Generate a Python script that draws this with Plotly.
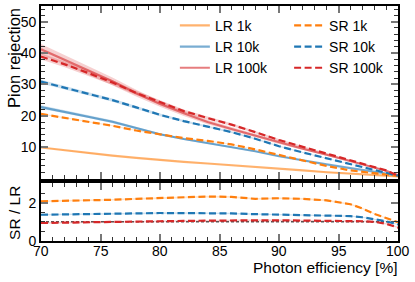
import plotly.graph_objects as go

# ---------------- data ----------------
eff = [70, 72, 74, 76, 78, 80, 82, 84, 86, 88, 90, 92, 94, 96, 97, 98, 99, 100]

lr_1k   = [9.9, 9.0, 8.1, 7.3, 6.6, 5.9, 5.3, 4.8, 4.3, 3.8, 3.2, 2.6, 2.0, 1.5, 1.3, 1.1, 0.9, 0.7]
lr_10k  = [22.8, 21.3, 19.8, 18.1, 16.1, 14.1, 12.6, 11.3, 10.1, 8.7, 7.1, 5.7, 4.5, 3.3, 2.8, 2.2, 1.6, 0.9]
lr_100k = [41.2, 37.8, 34.4, 31.0, 27.2, 23.8, 20.8, 18.0, 15.8, 13.7, 11.5, 9.5, 7.6, 5.6, 4.6, 3.6, 2.5, 1.1]

sr_1k   = [20.6, 19.4, 18.2, 16.8, 15.3, 14.0, 12.9, 12.0, 10.9, 9.3, 7.6, 5.8, 4.0, 2.6, 2.1, 1.6, 1.1, 0.8]
sr_10k  = [30.9, 28.9, 27.0, 25.0, 22.7, 20.3, 18.3, 16.5, 14.8, 12.7, 10.3, 8.3, 6.5, 4.6, 3.7, 2.9, 2.0, 0.9]
sr_100k = [38.9, 36.4, 33.6, 30.6, 27.3, 24.3, 21.5, 19.3, 17.2, 14.8, 12.3, 10.1, 8.0, 5.8, 4.8, 3.7, 2.6, 0.9]

ratio_1k   = [2.07, 2.09, 2.12, 2.15, 2.20, 2.25, 2.28, 2.32, 2.30, 2.20, 2.23, 2.20, 2.12, 1.92, 1.70, 1.42, 1.20, 0.98]
ratio_10k  = [1.37, 1.38, 1.40, 1.42, 1.44, 1.46, 1.46, 1.46, 1.44, 1.40, 1.38, 1.36, 1.34, 1.30, 1.24, 1.15, 1.03, 0.86]
ratio_100k = [0.94, 0.95, 0.96, 0.98, 1.00, 1.03, 1.05, 1.07, 1.08, 1.08, 1.08, 1.07, 1.06, 1.05, 1.03, 1.00, 0.90, 0.70]

# relative statistical uncertainty per series (shaded bands)
rel_err = {"LR 1k": 0.01, "LR 10k": 0.025, "LR 100k": 0.04,
           "SR 1k": 0.01, "SR 10k": 0.02, "SR 100k": 0.025}
ratio_rel_err = {"1k": 0.02, "10k": 0.025, "100k": 0.04}

x_ticks = [70, 75, 80, 85, 90, 95, 100]
y_ticks_top = [10, 20, 30, 40, 50]
y_ticks_bot = [0, 2]

# ---------------- style ----------------
C = {"1k": (255, 127, 14), "10k": (31, 119, 180), "100k": (214, 39, 40)}
FONT = "Liberation Sans, Arial, Helvetica, sans-serif"

def rgba(c, a):
    return f"rgba({c[0]},{c[1]},{c[2]},{a})"

fig = go.Figure()

def add_band(xv, yv, rel, col, xa, ya, alpha):
    up = [v * (1 + rel) for v in yv]
    lo = [v * (1 - rel) for v in yv]
    fig.add_trace(go.Scatter(x=xv + xv[::-1], y=up + lo[::-1], fill="toself",
                             fillcolor=rgba(col, alpha), line=dict(width=0),
                             hoverinfo="skip", showlegend=False, xaxis=xa, yaxis=ya))

series = [("LR 1k", lr_1k, "1k", "solid", "legend"),
          ("LR 10k", lr_10k, "10k", "solid", "legend"),
          ("LR 100k", lr_100k, "100k", "solid", "legend"),
          ("SR 1k", sr_1k, "1k", "dash", "legend2"),
          ("SR 10k", sr_10k, "10k", "dash", "legend2"),
          ("SR 100k", sr_100k, "100k", "dash", "legend2")]

for name, yv, key, kind, leg in series:
    add_band(eff, yv, rel_err[name], C[key], "x2", "y2", 0.22)

for name, yv, key, kind, leg in series:
    if kind == "solid":
        line = dict(color=rgba(C[key], 0.6), width=2.2)
    else:
        line = dict(color=rgba(C[key], 1), width=2.2, dash="7px,3.5px")
    fig.add_trace(go.Scatter(x=eff, y=yv, mode="lines", name=name, line=line,
                             xaxis="x2", yaxis="y2", legend=leg))

# ratio panel
fig.add_trace(go.Scatter(x=[eff[0], eff[-1]], y=[1, 1], mode="lines",
                         line=dict(color="black", width=1, dash="3px,2px"),
                         showlegend=False, xaxis="x", yaxis="y"))
for key, yv in [("1k", ratio_1k), ("10k", ratio_10k), ("100k", ratio_100k)]:
    add_band(eff, yv, ratio_rel_err[key], C[key], "x", "y", 0.22)
    fig.add_trace(go.Scatter(x=eff, y=yv, mode="lines", showlegend=False,
                             line=dict(color=rgba(C[key], 1), width=2.2, dash="7px,3.5px"),
                             xaxis="x", yaxis="y"))

axis_common = dict(showline=True, linecolor="black", linewidth=1.6, mirror="allticks",
                   ticks="inside", ticklen=7, tickwidth=1.5, tickcolor="#777",
                   showgrid=False, zeroline=False,
                   tickfont=dict(family=FONT, size=14, color="black"))

# x tick labels placed on the x scale just below the ratio panel
annotations = [dict(text=str(t), xref="x", yref="paper", x=t, y=0, yshift=-1, borderpad=0,
                    xanchor="center", yanchor="top", showarrow=False,
                    font=dict(family=FONT, size=14, color="black")) for t in x_ticks]
annotations += [
    dict(text="Pion rejection", textangle=-90, xref="paper", yref="paper",
         x=-0.045, y=1.0, xanchor="right", yanchor="top", showarrow=False,
         font=dict(family=FONT, size=16.5)),
    dict(text="SR / LR", textangle=-90, xref="paper", yref="paper",
         x=-0.045, y=0.2447, xanchor="right", yanchor="top", showarrow=False,
         font=dict(family=FONT, size=15.5)),
    dict(text="Photon efficiency [%]", xref="paper", yref="paper", borderpad=0,
         x=1.0, y=-0.0717, xanchor="right", yanchor="top", showarrow=False,
         font=dict(family=FONT, size=15.5)),
]

fig.update_layout(
    width=415, height=282,
    margin=dict(l=41, r=17, t=4, b=41),
    paper_bgcolor="white", plot_bgcolor="white",
    font=dict(family=FONT, size=14, color="black"),
    xaxis=dict(range=[70, 100], anchor="y", tickvals=x_ticks, showticklabels=False,
               minor=dict(dtick=1, ticklen=4, tickcolor="#333", tickwidth=1, ticks="inside"),
               **axis_common),
    yaxis=dict(domain=[0, 0.2447], range=[0, 3], anchor="x", tickvals=y_ticks_bot,
               minor=dict(dtick=0.5, ticklen=4, tickcolor="#333", tickwidth=1, ticks="inside"),
               **axis_common),
    xaxis2=dict(range=[70, 100], anchor="y2", matches="x", tickvals=x_ticks, showticklabels=False,
                minor=dict(dtick=1, ticklen=4, tickcolor="#333", tickwidth=1, ticks="inside"),
                **axis_common),
    yaxis2=dict(domain=[0.2658, 1], range=[0, 55], anchor="x2", tickvals=y_ticks_top,
                minor=dict(dtick=2, ticklen=4, tickcolor="#333", tickwidth=1, ticks="inside"),
                **axis_common),
    legend=dict(x=0.375, y=0.984, xanchor="left", yanchor="top", bgcolor="rgba(0,0,0,0)",
                font=dict(family=FONT, size=14), tracegroupgap=0, itemwidth=30),
    legend2=dict(x=0.695, y=0.984, xanchor="left", yanchor="top", bgcolor="rgba(0,0,0,0)",
                 font=dict(family=FONT, size=14), tracegroupgap=0, itemwidth=30),
    annotations=annotations,
)

fig.write_html("out.html", config={"displayModeBar": False},
               post_script="document.body.style.margin='0';document.body.style.padding='0';")
